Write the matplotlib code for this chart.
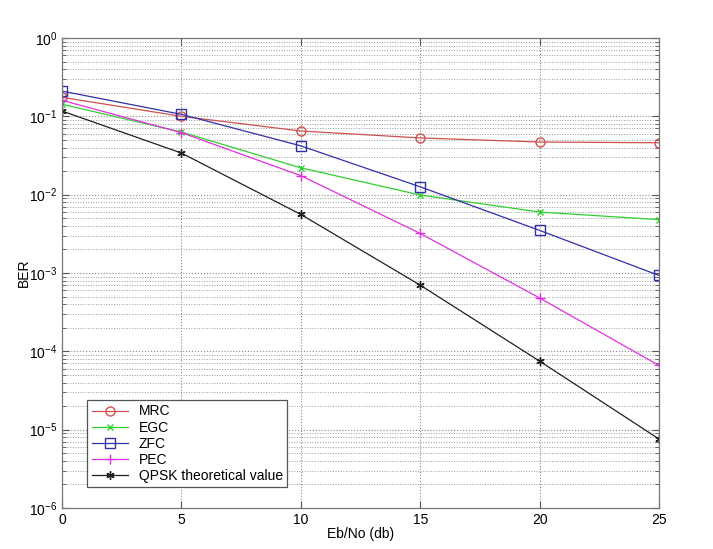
import matplotlib
matplotlib.use("Agg")
import matplotlib.pyplot as plt
from matplotlib.ticker import LogLocator, FixedLocator

plt.rcParams['font.family'] = ['Liberation Sans', 'DejaVu Sans']

snr = [0, 5, 10, 15, 20, 25]
mrc = [0.175, 0.100, 0.065, 0.053, 0.047, 0.046]
egc = [0.143, 0.063, 0.022, 0.0099, 0.0060, 0.0048]
zfc = [0.21, 0.106, 0.042, 0.0126, 0.0035, 0.00093]
pec = [0.16, 0.062, 0.0175, 0.0032, 0.00048, 0.000066]
qpsk = [0.117, 0.034, 0.0056, 0.00070, 0.000075, 0.0000076]
labels = ["MRC", "EGC", "ZFC", "PEC", "QPSK theoretical value"]

fig = plt.figure(figsize=(7.13, 5.49), dpi=100)
ax = fig.add_axes([62/713, 1-508/549, (659-62)/713, (508-38)/549])

lw = 0.9
ax.semilogy(snr, mrc, color='#d05050', marker='o', ms=6.5, mfc='none', lw=lw, label=labels[0])
ax.semilogy(snr, egc, color='#30d030', marker='x', ms=5, lw=lw, label=labels[1])
ax.semilogy(snr, zfc, color='#3030a8', marker='s', ms=6.5, mfc='none', lw=lw, label=labels[2])
ax.semilogy(snr, pec, color='#e030e0', marker='+', ms=7, lw=lw, label=labels[3])
ax.semilogy(snr, qpsk, color='#202020', marker=(6, 2, 0), ms=6, mew=1.0, lw=lw, label=labels[4])

ax.set_xlim(0, 25)
ax.set_ylim(1e-6, 1)
ax.xaxis.set_major_locator(FixedLocator(snr))
ax.yaxis.set_major_locator(LogLocator(base=10, numticks=10))
ax.yaxis.set_minor_locator(LogLocator(base=10, subs=range(2, 10), numticks=100))
ax.tick_params(which='both', direction='in', top=True, right=True, labelsize=10, color='#555555')
ax.tick_params(which='major', length=5)
ax.tick_params(which='minor', length=3)
ax.grid(True, which='major', axis='both', linestyle=':', color='#888888', lw=0.8)
ax.grid(True, which='minor', axis='y', linestyle=':', color='#999999', lw=0.7)
for s in ax.spines.values():
    s.set_color('#777777')
    s.set_linewidth(0.9)

ax.set_xlabel("Eb/No (db)", fontsize=10, labelpad=0)
ax.set_ylabel("BER", fontsize=10)
ax.yaxis.set_label_coords(-0.052, 0.5)

leg = ax.legend(loc='lower left', bbox_to_anchor=(0.031, 0.030), fontsize=10,
                fancybox=False, framealpha=1, edgecolor='#555555',
                handlelength=2.6, labelspacing=0.15, borderpad=0.3, handletextpad=0.8)
leg.get_frame().set_linewidth(0.9)

fig.savefig("out.png", dpi=100, facecolor='white')
